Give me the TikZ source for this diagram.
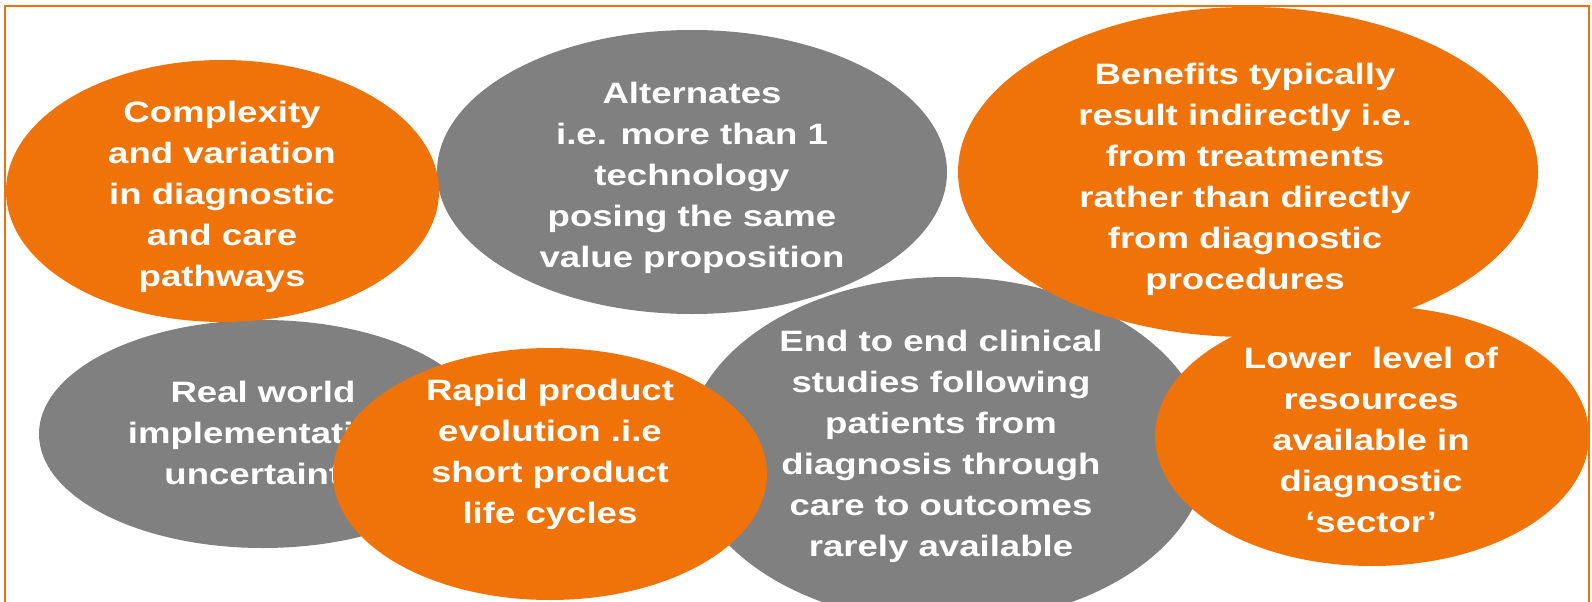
\documentclass[tikz,border=0pt]{standalone}
\usepackage{fontspec}
\setmainfont{Liberation Sans}[FakeStretch=1.24]
\usetikzlibrary{shapes.geometric}
\definecolor{orng}{RGB}{240,115,10}
\definecolor{gry}{RGB}{128,128,128}
\tikzset{
  blob/.style={ellipse, inner sep=0pt, draw=none, fill=#1},
  txt/.style={text=white, align=center, inner sep=0pt,
    font=\fontsize{29.5}{41}\selectfont\bfseries},
  frame/.style={draw=orng, line width=2pt}
}
\begin{document}
\begin{tikzpicture}[x=1pt,y=-1pt]
\useasboundingbox (0,0) rectangle (1592,602);
\fill[white] (0,0) rectangle (1592,602);
\draw[frame] (5,640) -- (5,6) -- (1589,6) -- (1589,640);
% Real world
\node[blob=gry, minimum width=448pt, minimum height=228pt] (rw) at (263,434) {};
\node[txt] (rwt) at (263,436) {Real world\\implementation\\uncertainty};
% Alternates
\node[blob=gry, minimum width=510pt, minimum height=284pt] (alt) at (692,172) {};
\node[txt] (altt) at (692,178) {Alternates\\i.e. more than 1\\technology\\posing the same\\value proposition};
% End to end
\node[blob=gry, minimum width=522pt, minimum height=346pt] (end) at (947,450) {};
\node[txt] (endt) at (941,446) {End to end clinical\\studies following\\patients from\\diagnosis through\\care to outcomes\\rarely available};
% Complexity
\node[blob=orng, minimum width=433pt, minimum height=262pt] (cx) at (222.5,191) {};
\node[txt] (cxt) at (222,197) {Complexity\\and variation\\in diagnostic\\and care\\pathways};
% Benefits
\node[blob=orng, minimum width=580pt, minimum height=330pt] (ben) at (1248,172) {};
\node[txt] (bent) at (1245,179) {Benefits typically\\result indirectly i.e.\\from treatments\\rather than directly\\from diagnostic\\procedures};
% Rapid
\node[blob=orng, minimum width=434pt, minimum height=252pt] (rap) at (550,474) {};
\node[txt] (rapt) at (550,454) {Rapid product\\evolution .i.e\\short product\\life cycles};
% Lower
\node[blob=orng, minimum width=434pt, minimum height=260pt] (low) at (1372,436) {};
\node[txt] (lowt) at (1371,440) {Lower~~level of\\resources\\available in\\diagnostic\\‘sector’};
\end{tikzpicture}
\end{document}
